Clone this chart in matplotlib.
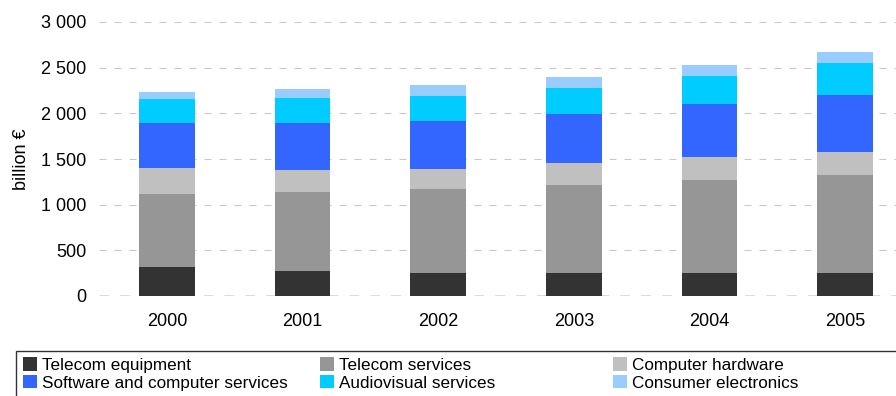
import matplotlib.pyplot as plt
import matplotlib.patches as mpatches
from matplotlib.ticker import FuncFormatter
import numpy as np

plt.rcParams['font.family'] = ['Liberation Sans', 'DejaVu Sans']

years = ["2000", "2001", "2002", "2003", "2004", "2005"]
telecom_equipment = [318, 274, 252, 252, 252, 252]
telecom_services = [799, 865, 920, 963, 1018, 1073]
computer_hardware = [285, 241, 219, 241, 252, 252]
software_services = [492, 514, 525, 537, 580, 624]
audiovisual = [263, 274, 274, 285, 307, 350]
consumer_electronics = [77, 99, 120, 120, 120, 121]

series = [
    ("Telecom equipment", telecom_equipment, "#333333"),
    ("Telecom services", telecom_services, "#969696"),
    ("Computer hardware", computer_hardware, "#c0c0c0"),
    ("Software and computer services", software_services, "#3366ff"),
    ("Audiovisual services", audiovisual, "#00ccff"),
    ("Consumer electronics", consumer_electronics, "#99ccff"),
]

W, H = 896, 396
fig = plt.figure(figsize=(W / 100, H / 100), dpi=100)
ax = fig.add_axes([99 / W, 100 / H, 814 / W, 274 / H])

x = np.arange(len(years))
bottom = np.zeros(len(years))
bars = {}
for name, vals, col in series:
    b = ax.bar(x, vals, 0.41, bottom=bottom, color=col, zorder=3)
    bars[name] = b
    bottom += np.array(vals)

ax.set_xlim(-0.5, 5.5)
ax.set_ylim(0, 3000)
ax.set_yticks(range(0, 3001, 500))
ax.yaxis.set_major_formatter(FuncFormatter(lambda v, p: f"{int(v):,}".replace(",", " ")))
ax.set_xticks(x)
ax.set_xticklabels(years)
ax.tick_params(axis='both', length=0, labelsize=13)
ax.tick_params(axis='x', pad=12)
ax.tick_params(axis='y', pad=9)
for s in ax.spines.values():
    s.set_visible(False)

ax.yaxis.grid(True, color='#c8c8c8', lw=0.75, linestyle=(0, (6.7, 7.7)), zorder=0)
ax.set_axisbelow(True)
ax.axhline(0, color='#d8d8d8', lw=2, linestyle=(0, (3.5, 4)), zorder=1)

ax.set_ylabel("billion €", fontsize=13)
ax.yaxis.set_label_coords(-0.085, 0.5)

# legend box
fig.patches.append(mpatches.Rectangle((16 / W, -0.1), 1, (H - 351) / H + 0.1,
                                      transform=fig.transFigure, fill=False,
                                      edgecolor='#333333', lw=1))

cols = [
    (23, ["Telecom equipment", "Software and computer services"]),
    (320, ["Telecom services", "Audiovisual services"]),
    (613, ["Computer hardware", "Consumer electronics"]),
]
for xpos, names in cols:
    fig.legend([bars[n] for n in names], names, loc='upper left',
               bbox_to_anchor=(xpos / W, (H - 357) / H), frameon=False,
               borderpad=0, borderaxespad=0, fontsize=12.3,
               handlelength=0.8, handleheight=0.85, handletextpad=0.3,
               labelspacing=0.12)

fig.savefig("out.png", dpi=100)
